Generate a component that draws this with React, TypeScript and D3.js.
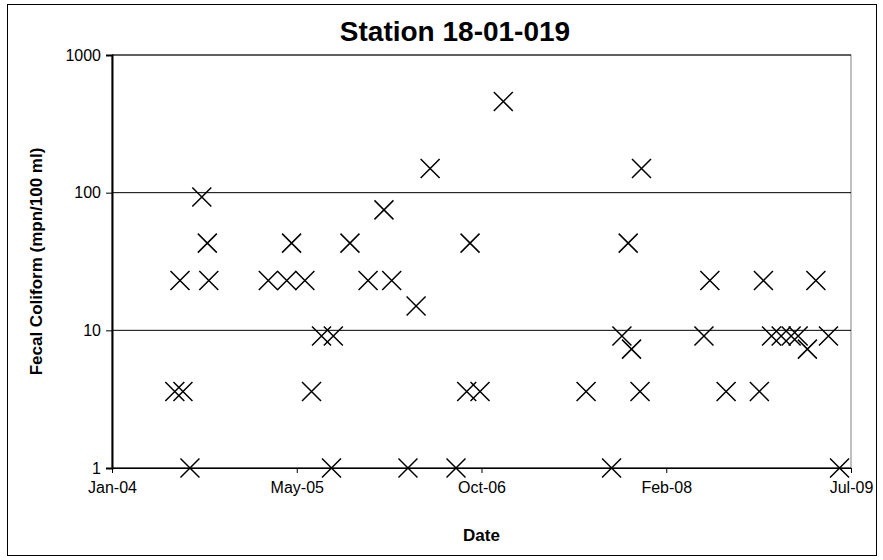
import React, {useEffect, useRef} from 'react';
import * as d3 from 'd3';

// sample dates and fecal coliform values
const DATES = [
  '2004-07-02','2004-07-24','2004-07-16','2004-08-12','2004-09-13','2004-09-28','2004-10-02',
  '2005-03-12','2005-05-01','2005-05-14','2005-06-19','2005-07-07','2005-08-03','2005-08-30',
  '2005-09-04','2005-10-19','2005-12-07','2006-01-19','2006-02-09','2006-03-25','2006-04-16',
  '2006-05-24','2006-08-02','2006-08-31','2006-09-09','2006-10-06','2006-12-08','2007-07-20',
  '2007-09-27','2007-10-25','2007-11-11','2007-11-20','2007-12-13','2007-12-17','2008-06-03',
  '2008-06-19','2008-08-02','2008-10-31','2008-11-11','2008-12-03','2008-12-29','2009-01-25',
  '2009-02-13','2009-03-10','2009-04-02','2009-05-06','2009-06-05',
];
const VALUES = [
  3.6, 3.6, 23, 1, 93, 43, 23,
  23, 23, 43, 23, 3.6, 9.1, 1,
  9.1, 43, 23, 75, 23, 1, 15,
  150, 1, 3.6, 43, 3.6, 460, 3.6,
  1, 9.1, 43, 7.3, 3.6, 150, 9.1,
  23, 3.6, 3.6, 23, 9.1, 9.1, 9.1,
  9.1, 7.3, 23, 9.1, 1,
];
const Y_TICKS = [1, 10, 100, 1000];
// Excel axis: min 14-Jan-04, major unit 500 days
const X_START = '2004-01-14';
const X_STEP_DAYS = 500;
const X_TICK_COUNT = 5;

const FONT = 'Liberation Sans, Arial, sans-serif';

const App = () => {
  const ref = useRef<SVGSVGElement>(null);

  useEffect(() => {
    const svg = d3.select(ref.current);
    svg.selectAll('*').remove();

    const margin = {top: 55, left: 112, right: 32, bottom: 92};
    const W = 883, H = 560;
    const width = W - margin.left - margin.right;
    const height = H - margin.top - margin.bottom;

    const parse = d3.utcParse('%Y-%m-%d');
    const start = parse(X_START)!;
    const xTicks = d3.range(X_TICK_COUNT).map(i => d3.utcDay.offset(start, i * X_STEP_DAYS));

    const x = d3.scaleUtc().domain([xTicks[0], xTicks[xTicks.length - 1]]).range([0, width]);
    const y = d3.scaleLog().domain([1, 1000]).range([height, 0]);

    svg.append('rect').attr('x', 7.5).attr('y', 4.5).attr('width', 869).attr('height', 551)
      .attr('fill', 'white').attr('stroke', 'black').attr('stroke-width', 1);

    const g = svg.append('g').attr('transform', `translate(${margin.left}, ${margin.top})`);

    // plot area border
    g.append('rect').attr('width', width).attr('height', height)
      .attr('fill', 'none').attr('stroke', '#808080').attr('stroke-width', 1);

    // gridlines
    g.selectAll('.grid').data(Y_TICKS).enter().append('line')
      .attr('x1', 0).attr('x2', width)
      .attr('y1', d => y(d)).attr('y2', d => y(d))
      .attr('stroke', 'black').attr('stroke-width', 1);

    const yAxis = g.append('g')
      .call(d3.axisLeft(y).tickValues(Y_TICKS).tickFormat(d3.format('d')).tickSize(6).tickPadding(5));
    yAxis.select('.domain').attr('stroke-width', 2);
    yAxis.selectAll('text').attr('font-size', 16).attr('font-family', FONT).attr('fill', 'black');

    const xAxis = g.append('g').attr('transform', `translate(0, ${height})`)
      .call(d3.axisBottom(x).tickValues(xTicks).tickFormat(d3.utcFormat('%b-%y') as any).tickSize(5).tickPadding(9));
    xAxis.selectAll('text').attr('font-size', 16).attr('font-family', FONT).attr('fill', 'black');
    xAxis.select('.domain').attr('d', `M0,0.5H${width}`);

    const pts = DATES.map((d, i) => ({date: parse(d)!, v: VALUES[i]}));
    const s = 9.5;
    g.selectAll('.pt').data(pts).enter().append('path')
      .attr('transform', d => `translate(${x(d.date)}, ${y(d.v)})`)
      .attr('d', `M${-s},${-s}L${s},${s}M${-s},${s}L${s},${-s}`)
      .attr('stroke', 'black').attr('stroke-width', 1.5).attr('fill', 'none');

    svg.append('text').attr('x', 455).attr('y', 41).attr('text-anchor', 'middle')
      .attr('font-family', FONT).attr('font-weight', 'bold').attr('font-size', 28)
      .text('Station 18-01-019');

    svg.append('text').attr('x', margin.left + width / 2).attr('y', 541).attr('text-anchor', 'middle')
      .attr('font-family', FONT).attr('font-weight', 'bold').attr('font-size', 17)
      .text('Date');

    svg.append('text').attr('transform', `translate(42, ${margin.top + height / 2}) rotate(-90)`)
      .attr('text-anchor', 'middle')
      .attr('font-family', FONT).attr('font-weight', 'bold').attr('font-size', 17)
      .text('Fecal Coliform (mpn/100 ml)');
  }, []);

  return (
    <div className="App">
      <svg ref={ref} width={883} height={560} style={{position: 'absolute', left: 0, top: 0}}></svg>
    </div>
  );
};

export default App;
